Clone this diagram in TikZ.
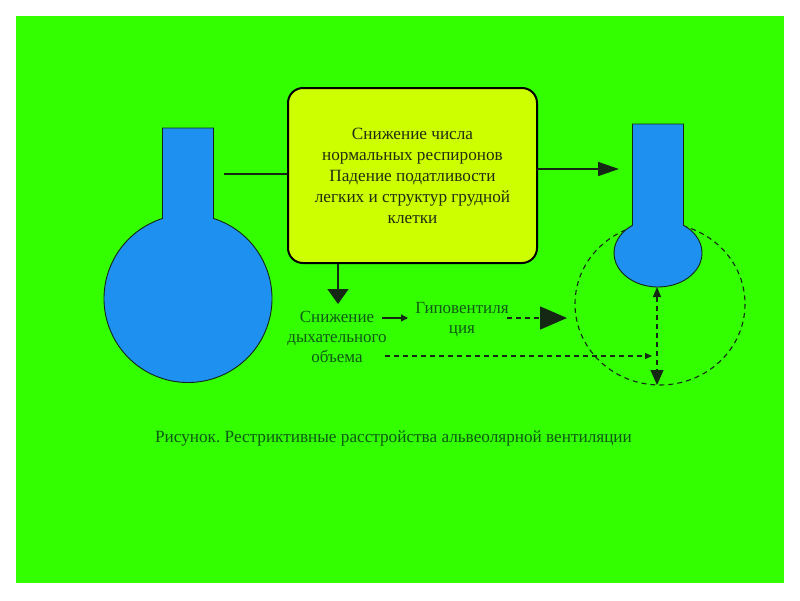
\documentclass[tikz,border=0pt]{standalone}
\usepackage{fontspec}
\setmainfont{Liberation Serif}
\frenchspacing
\usetikzlibrary{arrows.meta,calc}
\definecolor{bg}{RGB}{51,255,0}
\definecolor{boxfill}{RGB}{206,255,0}
\definecolor{flaskblue}{RGB}{30,144,240}
\definecolor{ink}{RGB}{20,40,20}
\definecolor{txtbox}{RGB}{35,45,18}
\definecolor{txtgreen}{RGB}{14,90,20}
\begin{document}
\begin{tikzpicture}[x=1pt,y=-1pt,
  flaskst/.style={fill=flaskblue,draw=ink,line width=0.9pt},
  conn/.style={draw=ink,line width=1.6pt},
  thinconn/.style={draw=ink,line width=1.2pt},
  dsh/.style={draw=ink,line width=1.1pt,dash pattern=on 5pt off 4pt},
  boxst/.style={draw=black,line width=2pt,fill=boxfill,rounded corners=15pt,
    minimum width=249pt,minimum height=175pt,align=center,text=txtbox,
    font=\fontsize{17.2}{21}\selectfont,inner sep=0pt},
  greentxt/.style={align=center,text=txtgreen,font=\fontsize{17}{20}\selectfont,inner sep=0pt}
]
\useasboundingbox (0,0) rectangle (800,600);
\fill[white] (0,0) rectangle (800,600);
\fill[bg] (16,16) rectangle (784,583);

% left flask
\coordinate (lc) at (188,298.5);
\draw[flaskst] ($(lc)+(252.3:84)$) -- (162.5,128) -- (213.5,128) -- ($(lc)+(-72.3:84)$)
  arc[start angle=-72.3,end angle=252.3,radius=84] -- cycle;

% dashed circle (former size)
\draw[dsh] (660,304) ellipse [x radius=85,y radius=81];

% right flask
\coordinate (rc) at (658,253);
\draw[flaskst] ($(rc)+(234.6:44 and 34)$) -- (632.5,124) -- (683.5,124) -- ($(rc)+(-54.6:44 and 34)$)
  arc[start angle=-54.6,end angle=234.6,x radius=44,y radius=34] -- cycle;

% central box
\node[boxst] (box) at (412.5,175.5) {Снижение числа\\нормальных респиронов\\Падение податливости\\легких и структур грудной\\клетки};

% texts
\node[greentxt] (snizh) at (337,337) {Снижение\\дыхательного\\объема};
\node[greentxt] (gip) at (462,320) {Гиповентиля\\ция};
\node[greentxt,font=\fontsize{17.2}{19}\selectfont] (caption) at (393.5,438) {Рисунок. Рестриктивные расстройства альвеолярной вентиляции};

% coordinates
\coordinate (lneck) at (224,174);
\coordinate (rneck) at (619,169);
\coordinate (downtip) at (338,304);
\coordinate (s1) at (382,318);
\coordinate (g1) at (408,318);
\coordinate (g2) at (507,318);
\coordinate (circl) at (567,318);
\coordinate (o1) at (385,356);
\coordinate (o2) at (652,356);
\coordinate (bulbbot) at (657,287);
\coordinate (circbot) at (657,385);

% connectors
\draw[conn] (lneck) -- (lneck -| box.west);
\draw[conn,-{Triangle[length=21pt,width=14pt]}] (box.east |- rneck) -- (rneck);
\draw[conn,-{Triangle[length=15pt,width=21pt]}] (box.south -| downtip) -- (downtip);
\draw[thinconn,-{Triangle[length=7pt,width=7pt]}] (s1) -- (g1);
\draw[dsh,line width=1.4pt,-{Triangle[length=27pt,width=23pt]}] (g2) -- (circl);
\draw[dsh,-{Triangle[length=7pt,width=6pt]}] (o1) -- (o2);
\draw[dsh,{Triangle[length=10pt,width=8pt]}-{Triangle[length=15pt,width=13pt]}] (bulbbot) -- (circbot);
\end{tikzpicture}
\end{document}
